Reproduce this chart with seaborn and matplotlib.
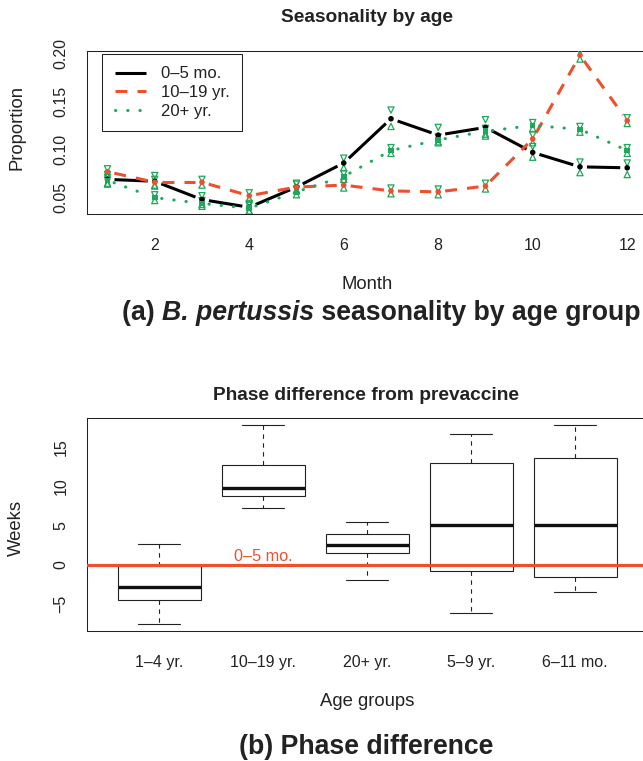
import numpy as np
import pandas as pd
import matplotlib
matplotlib.use("Agg")
import matplotlib.pyplot as plt
import seaborn as sns
from matplotlib.lines import Line2D

# ---------------- data: panel (a) ----------------
months = [1, 2, 3, 4, 5, 6, 7, 8, 9, 10, 11, 12]
infant = [0.069, 0.067, 0.048, 0.040, 0.061, 0.086, 0.132, 0.115, 0.123, 0.097, 0.082, 0.081]
infant_lo = [0.064, 0.062, 0.043, 0.036, 0.057, 0.081, 0.124, 0.108, 0.114, 0.092, 0.076, 0.074]
infant_hi = [0.074, 0.073, 0.052, 0.044, 0.065, 0.091, 0.141, 0.123, 0.131, 0.103, 0.087, 0.086]
teen = [0.077, 0.066, 0.066, 0.052, 0.061, 0.063, 0.057, 0.056, 0.062, 0.111, 0.198, 0.130]
teen_lo = [0.074, 0.063, 0.063, 0.049, 0.058, 0.060, 0.054, 0.053, 0.059, 0.107, 0.194, 0.127]
teen_hi = [0.080, 0.069, 0.069, 0.055, 0.064, 0.066, 0.060, 0.059, 0.065, 0.115, 0.202, 0.133]
adult = [0.068, 0.050, 0.044, 0.039, 0.056, 0.072, 0.099, 0.110, 0.119, 0.125, 0.121, 0.099]
adult_lo = [0.065, 0.047, 0.041, 0.036, 0.053, 0.069, 0.096, 0.107, 0.116, 0.122, 0.118, 0.096]
adult_hi = [0.071, 0.053, 0.047, 0.042, 0.059, 0.075, 0.102, 0.113, 0.122, 0.128, 0.124, 0.102]
series_labels = ["0–5 mo.", "10–19 yr.", "20+ yr."]
yticks_a = [0.05, 0.10, 0.15, 0.20]
xticks_a = [2, 4, 6, 8, 10, 12]

# ---------------- data: panel (b) ----------------
groups = ["1–4 yr.", "10–19 yr.", "20+ yr.", "5–9 yr.", "6–11 mo."]
phase_min = [-7.5, 7.25, -1.9, -6.15, -3.45]
phase_q1 = [-4.45, 8.8, 1.55, -0.75, -1.55]
phase_med = [-2.75, 9.75, 2.5, 5.1, 5.05]
phase_q3 = [-0.1, 12.65, 3.95, 13.0, 13.6]
phase_max = [2.65, 17.7, 5.5, 16.6, 17.75]
yticks_b = [-5, 0, 5, 10, 15]
ref_label = "0–5 mo."

RED = "#EE4F2C"
GREEN = "#1DA85A"
FONT = ["Liberation Sans", "DejaVu Sans"]

sns.set_theme(style="white")
plt.rcParams["font.family"] = FONT
plt.rcParams["axes.edgecolor"] = "#222222"
plt.rcParams["axes.linewidth"] = 0.75

W, H = 643, 761
fig = plt.figure(figsize=(W / 100, H / 100), dpi=100)


def box(l, t, r, b):
    return [l / W, 1 - b / H, (r - l) / W, (b - t) / H]


def style_axes(ax):
    for s in ax.spines.values():
        s.set_visible(True)
        s.set_color("#222222")
        s.set_linewidth(0.75)
    ax.tick_params(axis="both", direction="out", length=7, width=0.75,
                   color="#222222", labelsize=11.5, labelcolor="#222222")
    ax.tick_params(axis="x", pad=10)
    ax.tick_params(axis="y", pad=6)
    for lab in ax.get_yticklabels():
        lab.set_rotation(90)
        lab.set_va("center")
        lab.set_ha("right")
    ax.set_xlabel("")
    ax.set_ylabel("")


# ================= panel (a) =================
axa = fig.add_axes(box(86.7, 50.7, 648, 214))
axa.set_xlim(0.56, 12.44)
axa.set_ylim(0.033, 0.2027)
axa.set_xticks(xticks_a)
axa.set_xticklabels([str(v) for v in xticks_a])
axa.set_yticks(yticks_a)
axa.set_yticklabels([f"{v:.2f}" for v in yticks_a])
style_axes(axa)


def draw_gapped(ax, xs, ys, gap, **kw):
    pts = ax.transData.transform(np.column_stack([xs, ys]))
    inv = ax.transData.inverted()
    for p0, p1 in zip(pts[:-1], pts[1:]):
        d = p1 - p0
        L = np.hypot(*d)
        if L <= 2 * gap:
            continue
        u = d / L
        a = inv.transform(p0 + u * gap)
        b = inv.transform(p1 - u * gap)
        ax.plot([a[0], b[0]], [a[1], b[1]], **kw)


line_styles = [
    dict(color="black", lw=2.2, solid_capstyle="butt"),
    dict(color=RED, lw=2.2, linestyle=(0, (3.9, 3.3)), dash_capstyle="butt"),
    dict(color=GREEN, lw=2.2, linestyle=(0, (0.1, 3.9)), dash_capstyle="round"),
]
series = [infant, teen, adult]
los = [infant_lo, teen_lo, adult_lo]
his = [infant_hi, teen_hi, adult_hi]
pt_colors = ["black", RED, GREEN]
pt_markers = ["o", "o", "s"]

for vals, st in zip(series, line_styles):
    draw_gapped(axa, months, vals, 7, zorder=2, **st)

for vals, lo, hi, c, m in zip(series, los, his, pt_colors, pt_markers):
    sns.scatterplot(x=months, y=vals, ax=axa, color=c, marker=m, s=16,
                    edgecolor="none", zorder=4, legend=False)
    sns.scatterplot(x=months, y=hi, ax=axa, marker="v", s=20,
                    facecolor="none", edgecolor=GREEN, linewidth=0.9,
                    zorder=3, legend=False)
    sns.scatterplot(x=months, y=lo, ax=axa, marker="^", s=20,
                    facecolor="none", edgecolor=GREEN, linewidth=0.9,
                    zorder=3, legend=False)

axa.set_xlim(0.56, 12.44)
axa.set_ylim(0.033, 0.2027)
axa.set_xlabel("")
axa.set_ylabel("")

handles = [Line2D([], [], **st) for st in line_styles]
leg = axa.legend(handles, series_labels, loc="upper left",
                 bbox_to_anchor=(0.0273, 0.98), borderaxespad=0,
                 fancybox=False, frameon=True, fontsize=12,
                 handlelength=1.9, handletextpad=0.9, borderpad=0.75,
                 labelspacing=0.22, framealpha=1)
leg.get_frame().set_edgecolor("#222222")
leg.get_frame().set_linewidth(0.75)
for t in leg.get_texts():
    t.set_color("#222222")

fig.text(367 / W, 1 - 18 / H, "Seasonality by age", ha="center", va="center",
         fontsize=13.8, fontweight="bold", color="#222222")
fig.text(16.7 / W, 1 - 127.5 / H, "Proportion", rotation=90, ha="center",
         va="center", fontsize=13.3, color="#222222")
fig.text(367 / W, 1 - 285 / H, "Month", ha="center", va="center",
         fontsize=13.3, color="#222222")

t1 = fig.text(121.7 / W, 1 - 313 / H, "(a) ", ha="left", va="center",
              fontsize=19.2, fontweight="bold", color="#222222")
t2 = fig.text(0, 0, "B. pertussis", fontsize=19.2, fontweight="bold",
              fontstyle="italic", color="#222222", ha="left", va="bottom",
              transform=fig.transFigure)
t3 = fig.text(0, 0, " seasonality by age group", fontsize=19.2,
              fontweight="bold", color="#222222", ha="left", va="bottom")

# ================= panel (b) =================
axb = fig.add_axes(box(86.7, 417.7, 648, 631))
df = pd.DataFrame({
    "group": np.repeat(groups, 5),
    "weeks": np.column_stack([phase_min, phase_q1, phase_med,
                              phase_q3, phase_max]).ravel(),
})
sns.boxplot(data=df, x="group", y="weeks", order=groups, ax=axb,
            whis=(0, 100), width=0.8, color="white", linecolor="#222222",
            linewidth=0.8, saturation=1,
            medianprops=dict(linewidth=2.4, color="#111111"),
            whiskerprops=dict(linestyle=(0, (4, 4))),
            capprops=dict(linewidth=0.8))
axb.axhline(0, color=RED, lw=2.3, zorder=5)
axb.annotate(ref_label, xy=(1, 0), xytext=(0, 2.5), textcoords="offset points",
             ha="center", va="baseline", fontsize=11.7, color=RED, zorder=6)
axb.set_xlim(-0.698, 4.70)
axb.set_ylim(-8.4, 18.69)
axb.set_yticks(yticks_b)
axb.set_yticklabels(["\u2212" + str(abs(v)) if v < 0 else str(v) for v in yticks_b])
style_axes(axb)

fig.text(366 / W, 1 - 395 / H, "Phase difference from prevaccine", ha="center",
         va="center", fontsize=13.8, fontweight="bold", color="#222222")
fig.text(16.7 / W, 1 - 528 / H, "Weeks", rotation=90, ha="center",
         va="center", fontsize=13.3, color="#222222")
fig.text(367 / W, 1 - 702 / H, "Age groups", ha="center", va="center",
         fontsize=13.3, color="#222222")
fig.text(366 / W, 1 - 746.7 / H, "(b) Phase difference", ha="center",
         va="center", fontsize=19.2, fontweight="bold", color="#222222")

# chain caption pieces of panel (a)
fig.canvas.draw()
r = fig.canvas.get_renderer()
bb1 = t1.get_window_extent(r)
t2.set_position((bb1.x1 / W, bb1.y0 / H))
fig.canvas.draw()
bb2 = t2.get_window_extent(r)
t3.set_position((bb2.x1 / W, bb1.y0 / H))

fig.savefig("out.png", dpi=100)
